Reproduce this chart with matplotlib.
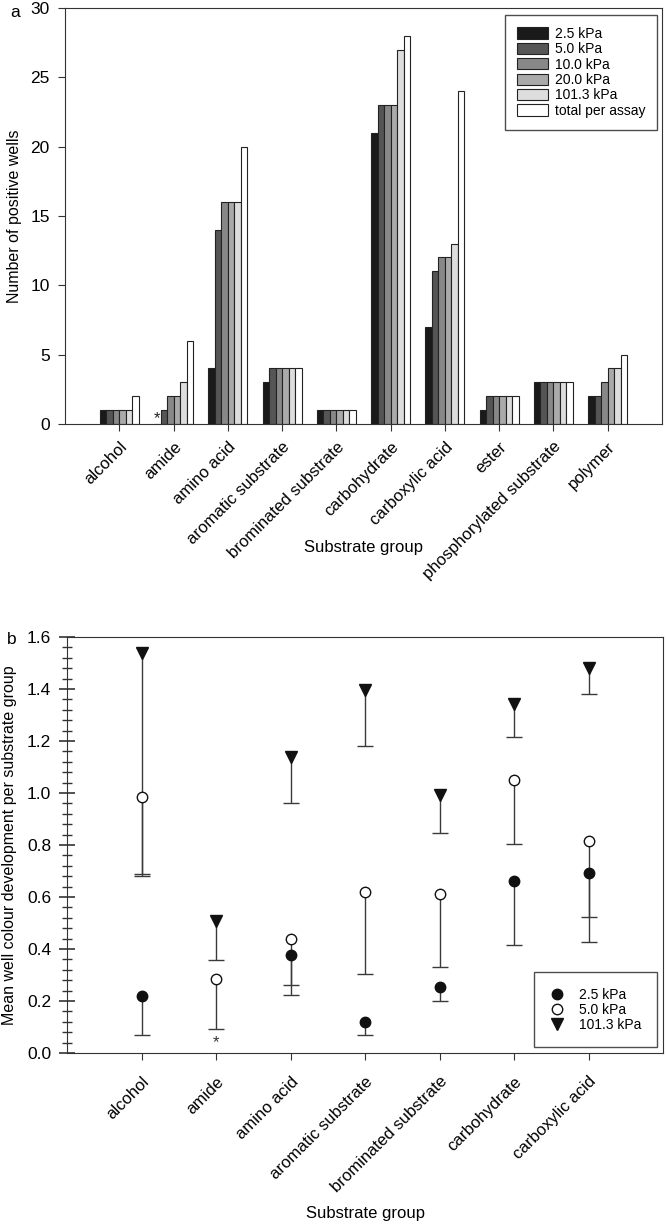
import numpy as np
import matplotlib
matplotlib.use("Agg")
import matplotlib.pyplot as plt
from matplotlib.lines import Line2D

plt.rcParams['font.family'] = ['Liberation Sans', 'DejaVu Sans']

# panel a: number of positive wells per substrate group
groups_a = ['alcohol', 'amide', 'amino acid', 'aromatic substrate', 'brominated substrate',
            'carbohydrate', 'carboxylic acid', 'ester', 'phosphorylated substrate', 'polymer']
series_a = ['2.5 kPa', '5.0 kPa', '10.0 kPa', '20.0 kPa', '101.3 kPa', 'total per assay']
kpa_2_5 = [1, 0, 4, 3, 1, 21, 7, 1, 3, 2]
kpa_5_0 = [1, 1, 14, 4, 1, 23, 11, 2, 3, 2]
kpa_10_0 = [1, 2, 16, 4, 1, 23, 12, 2, 3, 3]
kpa_20_0 = [1, 2, 16, 4, 1, 23, 12, 2, 3, 4]
kpa_101_3 = [1, 3, 16, 4, 1, 27, 13, 2, 3, 4]
total_assay = [2, 6, 20, 4, 1, 28, 24, 2, 3, 5]
bar_colors = ['#1a1a1a', '#555555', '#888888', '#aaaaaa', '#dddddd', '#ffffff']

# panel b: mean well colour development (value, lower error end)
groups_b = ['alcohol', 'amide', 'amino acid', 'aromatic substrate', 'brominated substrate',
            'carbohydrate', 'carboxylic acid']
series_b = ['2.5 kPa', '5.0 kPa', '101.3 kPa']
mean_2_5 = [0.22, np.nan, 0.377, 0.119, 0.253, 0.663, 0.694]
low_2_5 = [0.069, np.nan, 0.26, 0.07, 0.199, 0.415, 0.427]
mean_5_0 = [0.986, 0.286, 0.438, 0.619, 0.61, 1.05, 0.817]
low_5_0 = [0.69, 0.092, 0.224, 0.304, 0.332, 0.804, 0.523]
mean_101_3 = [1.537, 0.508, 1.14, 1.396, 0.992, 1.342, 1.482]
low_101_3 = [0.68, 0.358, 0.96, 1.18, 0.847, 1.217, 1.38]

fig = plt.figure(figsize=(6.66, 12.25), dpi=100)
edge = '#333333'

# ---------- panel a ----------
ax1 = fig.add_axes([0.0976, 0.654, 0.8964, 0.3395])
vals = [kpa_2_5, kpa_5_0, kpa_10_0, kpa_20_0, kpa_101_3, total_assay]
x = np.arange(len(groups_a))
w = 0.12
for i, (v, lab, c) in enumerate(zip(vals, series_a, bar_colors)):
    ax1.bar(x + (i - 2.5) * w, v, width=w, color=c, edgecolor='#222222',
            linewidth=0.8, label=lab)
ax1.text(1 - 2.5 * w, -0.15, '*', ha='center', va='bottom', fontsize=12, color='#222222')
ax1.set_xlim(-1, 10)
ax1.set_ylim(0, 30)
ax1.set_yticks(range(0, 31, 5))
ax1.set_xticks(x)
ax1.set_xticklabels(groups_a, rotation=45, ha='right', rotation_mode='anchor', fontsize=12)
ax1.tick_params(axis='y', labelsize=12.5, direction='out', length=5, color=edge, pad=6)
ax1.tick_params(axis='x', direction='out', length=5, color=edge, pad=6)
for s in ax1.spines.values():
    s.set_color(edge)
ax1.set_xlabel('Substrate group', fontsize=12, va='center')
ax1.xaxis.set_label_coords(0.5, -0.298)
ax1.set_ylabel('Number of positive wells', fontsize=11.5, va='center')
ax1.yaxis.set_label_coords(-0.085, 0.5)
leg1 = ax1.legend(loc='upper right', fontsize=10, frameon=True, fancybox=False,
                  edgecolor='#222222', handlelength=2.2, handleheight=0.85,
                  labelspacing=0.1, borderpad=0.85, handletextpad=0.5,
                  borderaxespad=0, bbox_to_anchor=(0.9916, 0.983))
leg1.get_frame().set_linewidth(1.0)
fig.text(0.015, 0.990, 'a', fontsize=12.5, va='center')

# ---------- panel b ----------
ax2 = fig.add_axes([0.1006, 0.1404, 0.895, 0.3396])
xb = np.arange(len(groups_b))
err_kw = dict(ecolor='#3a3a3a', elinewidth=1.0, capsize=5.5, capthick=1.0, linestyle='none')
styles = [dict(marker='o', markersize=7.5, mfc='#111111', mec='#111111'),
          dict(marker='o', markersize=7.5, mfc='white', mec='#111111', mew=1.0),
          dict(marker='v', markersize=8.5, mfc='#111111', mec='#111111')]
for mean, low, st in zip([mean_2_5, mean_5_0, mean_101_3],
                         [low_2_5, low_5_0, low_101_3], styles):
    m = np.array(mean)
    lo = np.array(low)
    eb = ax2.errorbar(xb, m, yerr=[m - lo, np.zeros_like(m)], **st, **err_kw)
    # only the lower cap is shown
    top = m[~np.isnan(m)]
    for cap in eb[1]:
        yd = np.asarray(cap.get_ydata(), dtype=float)
        yd = yd[~np.isnan(yd)]
        if yd.shape == top.shape and np.allclose(yd, top):
            cap.set_visible(False)
ax2.text(1, 0.01, '*', ha='center', va='bottom', fontsize=12, color='#333333')
ax2.set_xlim(-1, 7)
ax2.set_ylim(0, 1.6)
yt = np.arange(0, 1.61, 0.2)
ax2.set_yticks(yt)
ax2.set_yticklabels([f'{v:.1f}' for v in yt])
ax2.set_yticks(np.arange(0, 1.61, 0.04), minor=True)
ax2.set_xticks(xb)
ax2.set_xticklabels(groups_b, rotation=45, ha='right', rotation_mode='anchor', fontsize=12)
ax2.tick_params(axis='y', which='major', labelsize=12.5, direction='inout', length=11,
                width=1.2, color=edge, pad=6)
ax2.tick_params(axis='y', which='minor', direction='inout', length=7, width=1.0,
                color=edge)
ax2.tick_params(axis='x', direction='out', length=5, color=edge, pad=10)
for s in ax2.spines.values():
    s.set_color(edge)
ax2.set_xlabel('Substrate group', fontsize=12, va='center')
ax2.xaxis.set_label_coords(0.5, -0.385)
ax2.set_ylabel('Mean well colour development per substrate group', fontsize=11.5, va='center')
ax2.yaxis.set_label_coords(-0.096, 0.5)
handles = [Line2D([], [], linestyle='none', **st) for st in styles]
leg2 = ax2.legend(handles, series_b, loc='lower right', fontsize=10, frameon=True,
                  fancybox=False, edgecolor='#222222', handlelength=1.2,
                  labelspacing=0.08, borderpad=1.1, handletextpad=1.0,
                  borderaxespad=0, bbox_to_anchor=(0.99, 0.014))
leg2.get_frame().set_linewidth(1.0)
fig.text(0.01, 0.478, 'b', fontsize=12.5, va='center')

fig.savefig('out.png', dpi=100)
